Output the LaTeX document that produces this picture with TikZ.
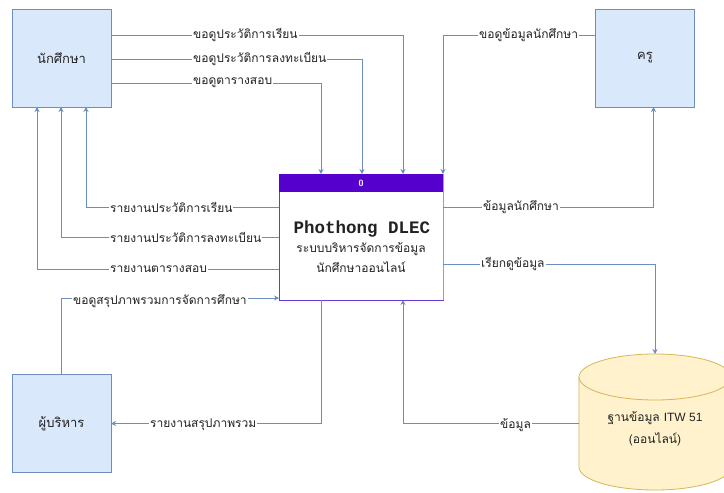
\documentclass[tikz,border=0pt]{standalone}
\usepackage{fontspec}
\newfontfamily\thai[Script=Thai]{Loma}
\newfontfamily\latinsans{Liberation Sans}
\newfontfamily\monob{Liberation Mono}
\usetikzlibrary{arrows.meta}
\definecolor{boxfill}{HTML}{DAE8FC}
\definecolor{boxline}{HTML}{6C8EBF}
\definecolor{procpurple}{HTML}{5500CC}
\definecolor{procline}{HTML}{6A3AD8}
\definecolor{procline2}{HTML}{A68EEA}
\definecolor{dbfill}{HTML}{FFF2CC}
\definecolor{dbline}{HTML}{D6B656}
\definecolor{txt}{HTML}{222222}
\begin{document}
\begin{tikzpicture}[x=1pt,y=-1pt,
  ent/.style={draw=boxline, fill=boxfill, line width=0.8pt, minimum width=99pt, minimum height=98pt, inner sep=0pt, outer sep=0pt, text=txt, font=\thai\fontsize{13}{15}\selectfont},
  flow/.style={draw=boxline, line width=0.8pt, -{Stealth[length=5pt,width=5pt]}},
  lab/.style={fill=white, inner sep=1pt, text=txt, font=\thai\fontsize{12}{14}\selectfont}]
\useasboundingbox (0,0) rectangle (724,493);
\clip (0,0) rectangle (724,493);
\fill[white] (0,0) rectangle (724,493);

% entities
\node[ent] (stu) at (61.5,58) {นักศึกษา};
\node[ent] (tea) at (645,58) {ครู};
\node[ent] (adm) at (61.5,423.5) {ผู้บริหาร};

% process
\node[draw=procline, fill=white, line width=0.8pt, minimum width=164pt, minimum height=126pt, inner sep=0pt, outer sep=0pt] (proc) at (361,237) {};
\draw[procline2, line width=0.8pt] (proc.north east) -- (proc.south east);
\node[fill=procpurple, minimum width=164pt, minimum height=18pt, anchor=north, inner sep=0pt, outer sep=0pt, text=white, font=\sffamily\bfseries\fontsize{9}{10}\selectfont] (hdr) at (proc.north) {0};
\node[text=txt, font=\monob\bfseries\fontsize{17.5}{19}\selectfont] (title) at (362,229) {Phothong DLEC};
\node[text=txt, font=\thai\fontsize{12}{20}\selectfont, align=center] (sub) at (361,258) {ระบบบริหารจัดการข้อมูล\\นักศึกษาออนไลน์};

% database cylinder
\filldraw[fill=dbfill, draw=dbline, line width=0.8pt] (579,377) -- (579,467) arc[start angle=180, end angle=0, x radius=76, y radius=23] -- (731,377) arc[start angle=0, end angle=-180, x radius=76, y radius=23] -- cycle;
\draw[dbline, line width=0.8pt] (579,377) arc[start angle=180, end angle=0, x radius=76, y radius=23];
\node[text=txt, font=\thai\fontsize{12}{22}\selectfont, align=center] (dbt) at (655,429) {ฐานข้อมูล {\latinsans ITW 51}\\(ออนไลน์)};
\coordinate (dbtop) at (655,354);
\coordinate (dbleft) at (579,423.5);

% flows
\draw[flow] ([yshift=-26pt]stu.north east) -| ([xshift=124pt]proc.north west);
\draw[flow] ([yshift=-50pt]stu.north east) -| ([xshift=83pt]proc.north west);
\draw[flow] ([yshift=-74pt]stu.north east) -| ([xshift=42pt]proc.north west);
\draw[flow] ([yshift=-26pt]tea.north west) -| (proc.north east);
\draw[flow] ([yshift=-33pt]proc.north west) -| ([xshift=74pt]stu.south west);
\draw[flow] ([yshift=-63pt]proc.north west) -| ([xshift=49pt]stu.south west);
\draw[flow] ([yshift=-95pt]proc.north west) -| ([xshift=25pt]stu.south west);
\draw[flow] (adm.north) |- ([yshift=2pt]proc.south west);
\draw[flow] ([yshift=-33pt]proc.north east) -| ([xshift=58pt]tea.south west);
\draw[flow] ([yshift=-90pt]proc.north east) -| (dbtop);
\draw[flow] (dbleft) -| ([xshift=124pt]proc.south west);
\draw[flow] ([xshift=42pt]proc.south west) |- (adm.east);

% labels
\node[lab, anchor=west] (l1) at (192,35) {ขอดูประวัติการเรียน};
\node[lab, anchor=west] (l2) at (192,59) {ขอดูประวัติการลงทะเบียน};
\node[lab, anchor=west] (l3) at (192,83) {ขอดูตารางสอบ};
\node[lab, anchor=west] (l4) at (478,35) {ขอดูข้อมูลนักศึกษา};
\node[lab, anchor=west] (l5) at (109,207) {รายงานประวัติการเรียน};
\node[lab, anchor=west] (l6) at (109,237) {รายงานประวัติการลงทะเบียน};
\node[lab, anchor=west] (l7) at (109,269) {รายงานตารางสอบ};
\node[lab, anchor=west] (l8) at (72,301) {ขอดูสรุปภาพรวมการจัดการศึกษา};
\node[lab, anchor=west] (l9) at (482,207) {ข้อมูลนักศึกษา};
\node[lab, anchor=west] (l10) at (480,264) {เรียกดูข้อมูล};
\node[lab, anchor=west] (l11) at (499,425) {ข้อมูล};
\node[lab, anchor=west] (l12) at (149,425) {รายงานสรุปภาพรวม};
\end{tikzpicture}
\end{document}
